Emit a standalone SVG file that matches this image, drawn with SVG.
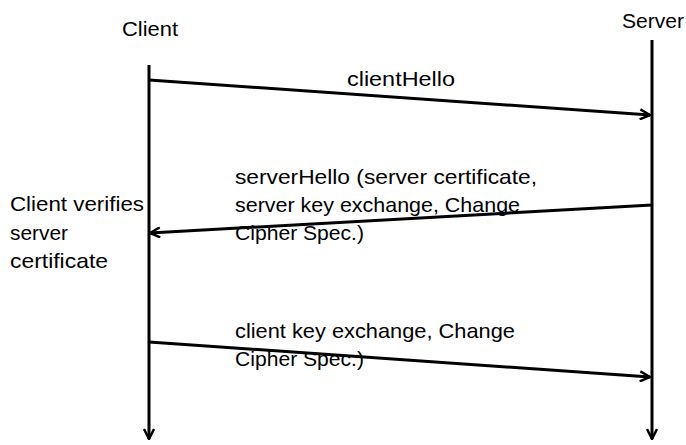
<svg xmlns="http://www.w3.org/2000/svg" width="686" height="445" viewBox="0 0 686 445">
<style>
text{font-family:"Liberation Sans",Arial,sans-serif;font-size:21px;fill:#000}
.ln{stroke:#000;stroke-width:3;fill:none}
</style>
<defs>
<marker id="ah" viewBox="0 0 12 12" refX="11" refY="6" markerWidth="12" markerHeight="12" markerUnits="userSpaceOnUse" orient="auto">
<path d="M1,1 L11,6 L1,11" fill="none" stroke="#000" stroke-width="2.5"/>
</marker>
</defs>
<rect width="686" height="445" fill="#fff"/>
<g id="client">
<text x="122" y="36" textLength="56" lengthAdjust="spacingAndGlyphs">Client</text>
</g>
<g id="server">
<text x="622" y="28" textLength="62" lengthAdjust="spacingAndGlyphs">Server</text>
</g>
<g id="note">
<text x="10" y="211" textLength="134" lengthAdjust="spacingAndGlyphs">Client verifies</text>
<text x="10" y="240" textLength="58" lengthAdjust="spacingAndGlyphs">server</text>
<text x="10" y="268" textLength="98" lengthAdjust="spacingAndGlyphs">certificate</text>
</g>
<g id="connectors">
<line class="ln" x1="149" y1="65" x2="149" y2="439" marker-end="url(#ah)"/>
<line class="ln" x1="652" y1="40" x2="652" y2="439" marker-end="url(#ah)"/>
<line class="ln" x1="149" y1="80" x2="650" y2="115" marker-end="url(#ah)"/>
<line class="ln" x1="652" y1="205" x2="150" y2="233" marker-end="url(#ah)"/>
<line class="ln" x1="149" y1="342" x2="650" y2="377" marker-end="url(#ah)"/>
</g>
<g id="labels">
<text x="347" y="86" textLength="108" lengthAdjust="spacingAndGlyphs">clientHello</text>
<text x="235" y="184" textLength="302" lengthAdjust="spacingAndGlyphs">serverHello (server certificate,</text>
<text x="235" y="212" textLength="285" lengthAdjust="spacingAndGlyphs">server key exchange, Change</text>
<text x="235" y="240" textLength="129" lengthAdjust="spacingAndGlyphs">Cipher Spec.)</text>
<text x="235" y="338" textLength="280" lengthAdjust="spacingAndGlyphs">client key exchange, Change</text>
<text x="235" y="366" textLength="129" lengthAdjust="spacingAndGlyphs">Cipher Spec.)</text>
</g>
</svg>
